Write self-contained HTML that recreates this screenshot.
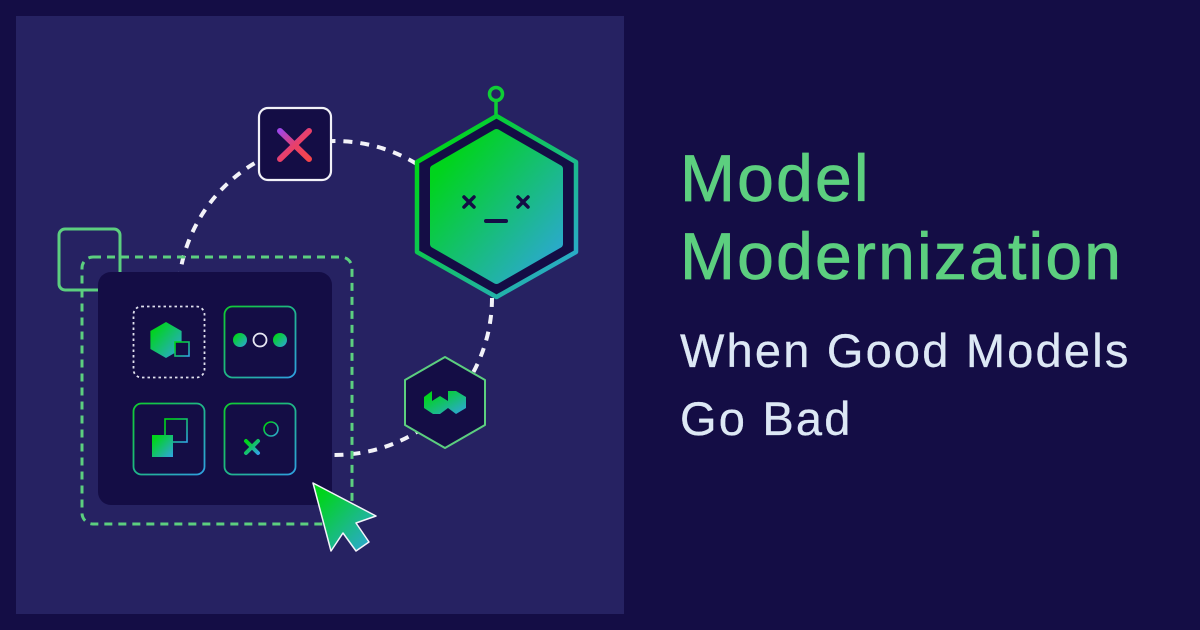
<!DOCTYPE html>
<html><head><meta charset="utf-8"><style>
html,body{margin:0;padding:0;background:#140d45;}
body{width:1200px;height:630px;overflow:hidden;position:relative;font-family:"Liberation Sans",sans-serif;}
svg{position:absolute;left:0;top:0;}
.t{position:absolute;left:680px;white-space:nowrap;}
.g{color:#5ccf7f;font-size:66px;letter-spacing:2.2px;-webkit-text-stroke:0.8px #5ccf7f;}
.w{color:#dde8f5;font-size:47px;letter-spacing:2.2px;-webkit-text-stroke:0.3px #dde8f5;}
</style></head><body>
<svg width="1200" height="630" viewBox="0 0 1200 630">
<defs>
<linearGradient id="gb" x1="0" y1="0" x2="1" y2="1"><stop offset="0.15" stop-color="#00d41c"/><stop offset="1" stop-color="#30a4e2"/></linearGradient>
<linearGradient id="gb2" x1="0" y1="0" x2="1" y2="1"><stop offset="0" stop-color="#10cc30"/><stop offset="1" stop-color="#2f9fe0"/></linearGradient>
<linearGradient id="xr" x1="0" y1="0" x2="1" y2="1"><stop offset="0" stop-color="#a046e6"/><stop offset="0.5" stop-color="#e8406a"/><stop offset="1" stop-color="#f5444a"/></linearGradient>
</defs>
<rect x="16" y="16" width="608" height="598" fill="#262262"/>
<circle cx="335" cy="298" r="157" fill="none" stroke="#f2f2f8" stroke-width="4" stroke-dasharray="9 8"/>
<rect x="59" y="229" width="61" height="61" rx="6" fill="none" stroke="#5ccf7f" stroke-width="3"/>
<rect x="82" y="257" width="270" height="267" rx="11" fill="none" stroke="#5ccf7f" stroke-width="3" stroke-dasharray="8 6"/>
<rect x="98" y="272" width="234" height="233" rx="13" fill="#140d45"/>
<rect x="133.5" y="306.5" width="71" height="71" rx="8" fill="none" stroke="#e0e0ee" stroke-width="1.8" stroke-dasharray="2.5 3"/>
<polygon points="166,322 181.6,331 181.6,349 166,358 150.4,349 150.4,331" fill="url(#gb)"/>
<rect x="175" y="342" width="14" height="14" fill="#140d45" stroke="url(#gb)" stroke-width="1.6"/>
<rect x="224.5" y="306.5" width="71" height="71" rx="8" fill="none" stroke="url(#gb2)" stroke-width="1.8"/>
<circle cx="240" cy="340" r="7" fill="url(#gb)"/>
<circle cx="260" cy="340" r="6.5" fill="none" stroke="#e8e8f4" stroke-width="1.8"/>
<circle cx="280" cy="340" r="7" fill="url(#gb)"/>
<rect x="133.5" y="403.5" width="71" height="71" rx="8" fill="none" stroke="url(#gb2)" stroke-width="1.8"/>
<rect x="165" y="419" width="22" height="23" fill="none" stroke="url(#gb)" stroke-width="1.6"/>
<rect x="152" y="435" width="21" height="22" fill="url(#gb)"/>
<rect x="224.5" y="403.5" width="71" height="71" rx="8" fill="none" stroke="url(#gb2)" stroke-width="1.8"/>
<circle cx="271" cy="429" r="7" fill="none" stroke="url(#gb)" stroke-width="1.6"/>
<path d="M246 441 L258 453 M258 441 L246 453" stroke="url(#gb)" stroke-width="4" stroke-linecap="round"/>
<rect x="259" y="108" width="72" height="72" rx="9" fill="#140d45" stroke="#f2f2f8" stroke-width="2.2"/>
<path d="M280 131 L309 159 M309 131 L280 159" stroke="url(#xr)" stroke-width="6" stroke-linecap="round"/>
<line x1="496" y1="100" x2="496" y2="115" stroke="#0fcf35" stroke-width="3.5"/>
<circle cx="496" cy="94" r="6.5" fill="#262262" stroke="#0fcf35" stroke-width="3.5"/>
<polygon points="496.5,116 576,162 576,252 496.5,297 417,252 417,162" fill="#140d45" stroke="url(#gb)" stroke-width="4.5" stroke-linejoin="round"/>
<polygon points="496.5,133 559,169 559,244 496.5,280 434,244 434,169" fill="url(#gb)" stroke="url(#gb)" stroke-width="8" stroke-linejoin="round"/>
<path d="M464 197 L474 207 M474 197 L464 207 M518 197 L528 207 M528 197 L518 207" stroke="#140d45" stroke-width="3.5" stroke-linecap="round"/>
<line x1="486" y1="221" x2="506" y2="221" stroke="#140d45" stroke-width="4" stroke-linecap="round"/>
<polygon points="445,357 485,380 485,425 445,448 405,425 405,380" fill="#140d45" stroke="#5ccf7f" stroke-width="2" stroke-linejoin="round"/>
<polygon points="424,397 432,391 432,401 440,396 448,401 448,391 456,391 466,397 466,408 456,414 448,408 440,414 433,414 424,408" fill="url(#gb)"/>
<polygon points="313,483 376,516 356,523 369,542 356,551 343,533 331,551" fill="url(#gb)" stroke="#f4f4fa" stroke-width="1.5" stroke-linejoin="round"/>
</svg>
<div class="t g" style="top:140px;line-height:76px;">Model</div>
<div class="t g" style="top:218px;line-height:76px;">Modernization</div>
<div class="t w" style="top:318px;line-height:66px;">When Good Models</div>
<div class="t w" style="top:386px;line-height:66px;">Go Bad</div>
</body></html>
